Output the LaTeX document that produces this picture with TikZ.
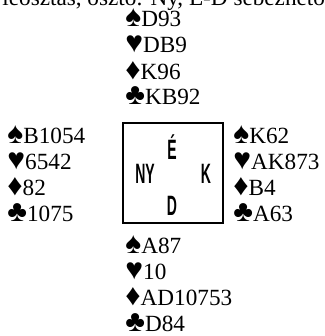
\documentclass[tikz,border=0pt]{standalone}
\usepackage{fontspec}
\usepackage{graphicx}
\setmainfont{Liberation Serif}
\newfontfamily\seatfont{Liberation Sans}
\usetikzlibrary{positioning}

\newcommand{\seatname}[1]{\scalebox{0.5}[1]{#1}}
\newcommand{\suit}[1]{{\fontsize{15}{13}\selectfont#1}}

\tikzset{
  hand/.style={anchor=base west, align=left, inner sep=0pt,
    font={\fontsize{11.6}{13}\selectfont\lineskiplimit-5pt}},
  seat/.style={inner sep=0pt, font=\seatfont\bfseries\fontsize{14}{13}\selectfont},
}

\begin{document}
\begin{tikzpicture}[x=0.5pt,y=-0.5pt]
    \clip (0,0) rectangle (325,336);
    % line of text above, cut by the page edge
    \node[hand] (caption) at (2,6) {leosztás, osztó: Ny, É-D sebezhető};
    % the four hands (placed at the baseline of their last line)
    \node[hand] (north) at (125,105) {\suit{♠}D93\\\suit{♥}DB9\\\suit{♦}K96\\\suit{♣}KB92};
    \node[hand] (west) at (7,221) {\suit{♠}B1054\\\suit{♥}6542\\\suit{♦}82\\\suit{♣}1075};
    \node[hand] (east) at (233,221) {\suit{♠}K62\\\suit{♥}AK873\\\suit{♦}B4\\\suit{♣}A63};
    \node[hand] (south) at (125,331) {\suit{♠}A87\\\suit{♥}10\\\suit{♦}AD10753\\\suit{♣}D84};
    % the table
    \node[draw, line width=0.8pt, minimum size=50pt, inner sep=0pt] (table) at (173,173) {};
    \node[seat] (e) at (172,147) {\seatname{É}};
    \node[seat] (ny) at (145,174) {\seatname{NY}};
    \node[seat] (k) at (206,174) {\seatname{K}};
    \node[seat] (d) at (172,206) {\seatname{D}};
\end{tikzpicture}
\end{document}
